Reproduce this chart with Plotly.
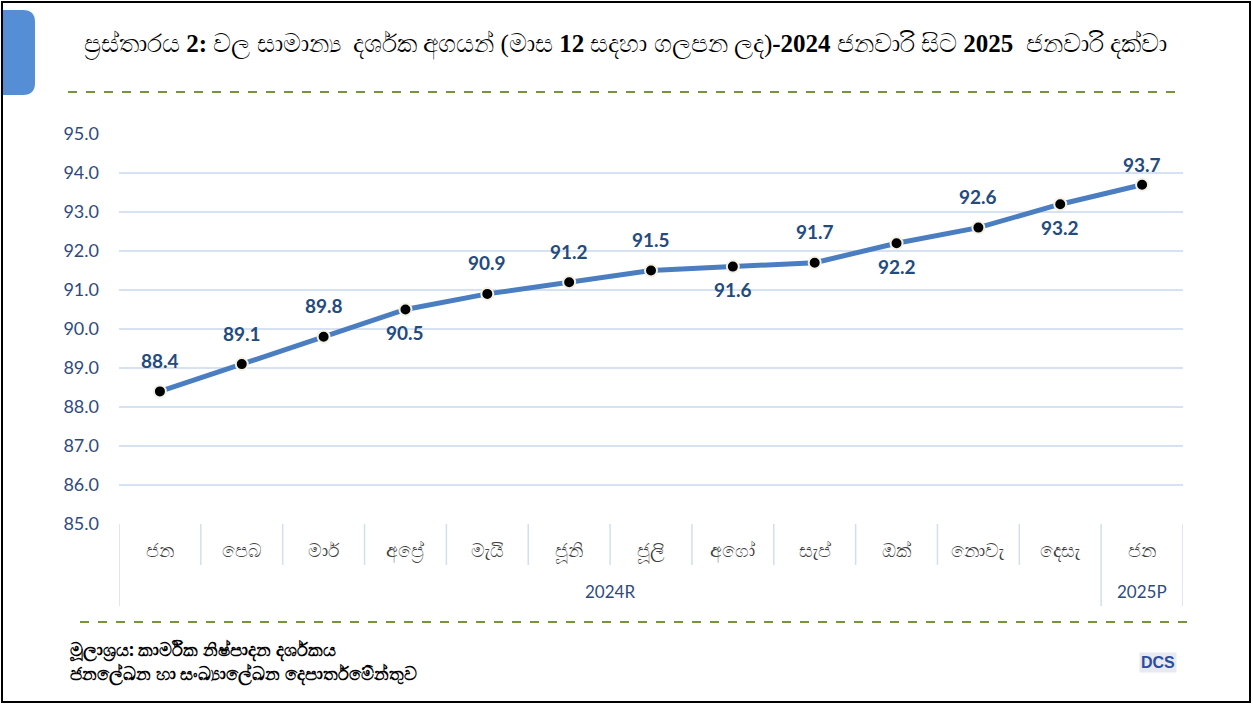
import plotly.graph_objects as go

months = ["ජන", "පෙබ", "මාර්", "අප්‍රේ", "මැයි", "ජූනි", "ජූලි", "අගෝ", "සැප්", "ඔක්", "නොවැ", "දෙසැ", "ජන"]
years = ["2024R"] * 12 + ["2025P"]
values = [88.4, 89.1, 89.8, 90.5, 90.9, 91.2, 91.5, 91.6, 91.7, 92.2, 92.6, 93.2, 93.7]
label_side = ["up", "up", "up", "down", "up", "up", "up", "down", "up", "down", "up", "down", "up"]
yticks = [85, 86, 87, 88, 89, 90, 91, 92, 93, 94, 95]

title = ("ප්‍රස්තාරය <b>2:</b> වල සාමාන්‍ය  දර්ශක අගයන් (මාස <b>12</b> සදහා ගලපන ලද)<b>-2024</b> "
         "ජනවාරි සිට <b>2025</b>  ජනවාරි දක්වා")
source1 = "මූලාශ්‍රය: කාර්මික නිෂ්පාදන දර්ශකය"
source2 = "ජනලේඛන හා සංඛ්‍යාලේඛන දෙපාර්තමේන්තුව"

W, H = 1253, 704
L, R, T, B = 119, 1183, 134, 524
pw, ph = R - L, B - T

def px(x):
    return (x - L) / pw

def py(y):
    return (B - y) / ph

xs = list(range(len(values)))

fig = go.Figure()
fig.add_trace(go.Scatter(
    x=xs, y=values, mode="lines+markers",
    line=dict(color="#4A7EC1", width=5),
    marker=dict(color="black", size=12, line=dict(color="#F3F1E6", width=2)),
    hoverinfo="skip", showlegend=False,
))

annotations = []
for i, (v, s) in enumerate(zip(values, label_side)):
    shift = 31 if s == "up" else -23
    if i == len(values) - 1:
        shift = 20
    annotations.append(dict(x=i, y=v, xref="x", yref="y", text=f"<b>{v:.1f}</b>",
                            showarrow=False, yshift=shift, xanchor="center", yanchor="middle",
                            font=dict(size=19, color="#234B7E", family="Lato")))

for i, m in enumerate(months):
    annotations.append(dict(x=i, y=py(550), xref="x", yref="paper", text=m, showarrow=False,
                            xanchor="center", yanchor="middle",
                            font=dict(size=19, color="#404040", family="Noto Sans")))

groups = {}
for i, yv in enumerate(years):
    groups.setdefault(yv, []).append(i)
for yv, idx in groups.items():
    annotations.append(dict(x=(idx[0] + idx[-1]) / 2, y=py(591), xref="x", yref="paper", text=yv,
                            showarrow=False, xanchor="center", yanchor="middle",
                            font=dict(size=17, color="#2F4B7C", family="Lato")))

annotations.append(dict(x=px(625), y=py(45), xref="paper", yref="paper", text=title, showarrow=False,
                        xanchor="center", yanchor="middle",
                        font=dict(size=25, color="black", family="Liberation Serif")))
annotations.append(dict(x=px(68), y=py(649), xref="paper", yref="paper", text=f"<b>{source1}</b>",
                        showarrow=False, xanchor="left", yanchor="middle",
                        font=dict(size=17.5, color="black", family="Noto Sans")))
annotations.append(dict(x=px(68), y=py(673), xref="paper", yref="paper", text=f"<b>{source2}</b>",
                        showarrow=False, xanchor="left", yanchor="middle",
                        font=dict(size=17.5, color="black", family="Noto Sans")))
annotations.append(dict(x=px(1158), y=py(662), xref="paper", yref="paper", text="<b>DCS</b>",
                        showarrow=False, bgcolor="#E8EAF0", borderpad=1, xanchor="center", yanchor="middle",
                        font=dict(size=16, color="#2B4DA0", family="Liberation Sans")))

shapes = []
for i in range(len(values) - 1):
    if years[i] != years[i + 1]:
        continue
    shapes.append(dict(type="line", xref="x", yref="paper", x0=i + 0.5, x1=i + 0.5,
                       y0=0, y1=py(565), line=dict(color="#D3DEEE", width=1.5)))
bounds = [-0.5] + [i + 0.5 for i in range(len(values) - 1) if years[i] != years[i + 1]] + [len(values) - 0.5]
for b in bounds:
    shapes.append(dict(type="line", xref="x", yref="paper", x0=b, x1=b,
                       y0=0, y1=py(606), line=dict(color="#D3DEEE", width=1.5)))
shapes.append(dict(type="line", xref="paper", yref="paper", x0=px(68), x1=px(1183), y0=py(92), y1=py(92),
                   line=dict(color="#77933C", width=2, dash="dash")))
shapes.append(dict(type="line", xref="paper", yref="paper", x0=px(80), x1=px(1192), y0=py(622), y1=py(622),
                   line=dict(color="#77933C", width=2, dash="dash")))
shapes.append(dict(type="rect", xref="paper", yref="paper", x0=px(2), x1=px(1250), y0=py(702), y1=py(2),
                   line=dict(color="black", width=2), fillcolor="rgba(0,0,0,0)"))
x0, x1, y0, y1 = px(3), px(35), py(95), py(10)
rx, ry = 12 / pw, 12 / ph
path = (f"M {x0},{y0} L {x1 - rx},{y0} Q {x1},{y0} {x1},{y0 + ry} "
        f"L {x1},{y1 - ry} Q {x1},{y1} {x1 - rx},{y1} L {x0},{y1} Z")
shapes.append(dict(type="path", xref="paper", yref="paper", path=path,
                   fillcolor="#558ED5", line=dict(width=0)))

fig.update_layout(
    width=W, height=H,
    margin=dict(l=L, r=W - R, t=T, b=H - B),
    paper_bgcolor="white", plot_bgcolor="white",
    xaxis=dict(range=[-0.5, len(values) - 0.5], showticklabels=False, showgrid=False,
               zeroline=False, showline=False, fixedrange=True),
    yaxis=dict(range=[85, 95], tickvals=yticks, tickformat=".1f", showgrid=True,
               gridcolor="#D6E1F2", gridwidth=1.5, zeroline=False, showline=False,
               tickfont=dict(size=18, color="#2E4A7D", family="Lato"), ticklabelstandoff=19,
               fixedrange=True),
    annotations=annotations, shapes=shapes,
)

fig.write_html("out.html", config={"displayModeBar": False},
               post_script="document.body.style.margin='0';document.body.style.overflow='hidden';")
